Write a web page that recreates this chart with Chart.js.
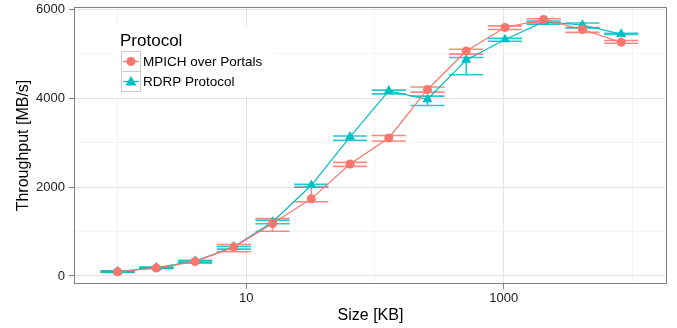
<!DOCTYPE html>
<html>
<head>
<meta charset="utf-8">
<script src="https://cdn.jsdelivr.net/npm/chart.js@4.4.1/dist/chart.umd.min.js"></script>
<style>
  html, body { margin: 0; padding: 0; background: #fff; }
</style>
</head>
<body>
<canvas id="chart" width="677" height="328"></canvas>
<script>
// message sizes (KB), log2 steps
const sizes = [1, 2, 4, 8, 16, 32, 64, 128, 256, 512, 1024, 2048, 4096, 8192];

// MPICH over Portals: mean + error bar bounds (MB/s)
const mpich = [95, 180, 325, 650, 1180, 1735, 2520, 3105, 4195, 5060, 5590, 5770, 5545, 5255];
const mpichLow = [80, 165, 295, 545, 1005, 1670, 2465, 3035, 4135, 4990, 5545, 5700, 5480, 5235];
const mpichHigh = [110, 195, 345, 710, 1290, 2000, 2555, 3160, 4250, 5100, 5625, 5785, 5590, 5295];

// RDRP Protocol
const rdrp = [100, 190, 335, 655, 1215, 2040, 3130, 4165, 3975, 4860, 5320, 5715, 5645, 5440];
const rdrpLow = [85, 175, 300, 605, 1175, 1995, 3050, 4095, 3835, 4525, 5280, 5665, 5580, 5430];
const rdrpHigh = [115, 200, 345, 665, 1250, 2060, 3150, 4180, 4045, 4915, 5345, 5735, 5690, 5460];

const xTicks = [1, 10, 100, 1000, 10000];
const xLabeled = [10, 1000];
const yTicks = [0, 1000, 2000, 3000, 4000, 5000, 6000];
const yLabeled = [0, 2000, 4000, 6000];

const RED = '#F8766D';
const TEAL = '#00BFC4';
const FONT = '"Liberation Sans", Arial, sans-serif';

const toPoints = (ys) => sizes.map((s, i) => ({ x: s, y: ys[i] }));

// 오차 막대 (ggplot geom_errorbar 느낌)
const errorBars = {
    id: 'errorBars',
    beforeDatasetsDraw(chart) {
        const { ctx, chartArea, scales: { x, y } } = chart;
        const capFactor = Math.pow(10, 0.133);
        const sets = [
            { low: mpichLow, high: mpichHigh, color: 'rgba(248,118,109,0.85)' },
            { low: rdrpLow, high: rdrpHigh, color: 'rgba(0,191,196,0.85)' }
        ];
        ctx.save();
        ctx.beginPath();
        ctx.rect(chartArea.left, chartArea.top, chartArea.right - chartArea.left, chartArea.bottom - chartArea.top);
        ctx.clip();
        sets.forEach(set => {
            ctx.strokeStyle = set.color;
            ctx.lineWidth = 1.6;
            sizes.forEach((s, i) => {
                const px = x.getPixelForValue(s);
                const x0 = x.getPixelForValue(s / capFactor);
                const x1 = x.getPixelForValue(s * capFactor);
                const yl = y.getPixelForValue(set.low[i]);
                const yh = y.getPixelForValue(set.high[i]);
                ctx.beginPath();
                ctx.moveTo(px, yl); ctx.lineTo(px, yh);
                ctx.moveTo(x0, yl); ctx.lineTo(x1, yl);
                ctx.moveTo(x0, yh); ctx.lineTo(x1, yh);
                ctx.stroke();
            });
        });
        ctx.restore();
    }
};

// 패널 테두리 + 범례 (플롯 안쪽 좌상단)
const panelAndLegend = {
    id: 'panelAndLegend',
    afterDraw(chart) {
        const { ctx, chartArea: a } = chart;
        ctx.save();
        ctx.strokeStyle = '#808080';
        ctx.lineWidth = 1;
        ctx.strokeRect(Math.round(a.left) + 0.5, Math.round(a.top) + 0.5,
            Math.round(a.right - a.left) - 1, Math.round(a.bottom - a.top) - 1);

        // legend background
        ctx.fillStyle = '#fff';
        ctx.fillRect(114, 27, 160, 70);

        ctx.fillStyle = '#000';
        ctx.textBaseline = 'middle';
        ctx.font = '17px ' + FONT;
        ctx.fillText('Protocol', 120, 41);

        const items = [
            { label: 'MPICH over Portals', color: RED, shape: 'circle' },
            { label: 'RDRP Protocol', color: TEAL, shape: 'triangle' }
        ];
        items.forEach((it, i) => {
            const bx = 121, by = 51.5 + i * 20, bs = 20;
            ctx.strokeStyle = '#cccccc';
            ctx.lineWidth = 1;
            ctx.strokeRect(bx + 0.5, by, bs - 1, bs);
            const cx = bx + bs / 2, cy = by + bs / 2;
            ctx.strokeStyle = it.color;
            ctx.lineWidth = 1.2;
            ctx.beginPath();
            ctx.moveTo(bx + 2, cy); ctx.lineTo(bx + bs - 2, cy);
            ctx.stroke();
            ctx.fillStyle = it.color;
            ctx.beginPath();
            if (it.shape === 'circle') {
                ctx.arc(cx, cy, 4.5, 0, Math.PI * 2);
            } else {
                ctx.moveTo(cx, cy - 5.5);
                ctx.lineTo(cx + 5.5, cy + 4);
                ctx.lineTo(cx - 5.5, cy + 4);
                ctx.closePath();
            }
            ctx.fill();
            ctx.fillStyle = '#000';
            ctx.font = '13.5px ' + FONT;
            ctx.fillText(it.label, 143, cy + 0.5);
        });
        ctx.restore();
    }
};

new Chart(document.getElementById('chart'), {
    type: 'line',
    data: {
        datasets: [
            {
                label: 'MPICH over Portals',
                data: toPoints(mpich),
                borderColor: RED,
                backgroundColor: RED,
                borderWidth: 1.2,
                pointStyle: 'circle',
                pointRadius: 4.5,
                pointBorderWidth: 0,
                tension: 0
            },
            {
                label: 'RDRP Protocol',
                data: toPoints(rdrp),
                borderColor: TEAL,
                backgroundColor: TEAL,
                borderWidth: 1.2,
                pointStyle: 'triangle',
                pointRadius: 5.8,
                pointBorderWidth: 0,
                tension: 0
            }
        ]
    },
    options: {
        responsive: false,
        animation: false,
        layout: { padding: { left: 0, right: 10, top: 7, bottom: 0 } },
        plugins: {
            legend: { display: false },
            tooltip: { enabled: false }
        },
        scales: {
            x: {
                type: 'logarithmic',
                min: 0.458,
                max: 18600,
                afterBuildTicks: (scale) => { scale.ticks = xTicks.map(v => ({ value: v })); },
                afterFit: (scale) => {
                    scale.height = 44;
                    scale.paddingLeft = 0;
                    scale.paddingRight = 0;
                },
                ticks: {
                    autoSkip: false,
                    maxRotation: 0,
                    padding: 2,
                    color: '#222',
                    font: { family: FONT, size: 13 },
                    callback: (v) => xLabeled.includes(v) ? String(v) : ''
                },
                grid: {
                    color: (c) => xLabeled.includes(c.tick && c.tick.value) ? '#e3e3e3' : '#f3f3f3',
                    tickColor: (c) => xLabeled.includes(c.tick && c.tick.value) ? '#808080' : 'rgba(0,0,0,0)',
                    tickLength: 5,
                    lineWidth: 1
                },
                border: { display: false },
                title: {
                    display: true,
                    text: 'Size [KB]',
                    color: '#000',
                    font: { family: FONT, size: 16 },
                    padding: { top: 0, bottom: 3 }
                }
            },
            y: {
                type: 'linear',
                min: -180,
                max: 6050,
                afterBuildTicks: (scale) => { scale.ticks = yTicks.map(v => ({ value: v })); },
                afterFit: (scale) => {
                    scale.width = 74;
                    scale.paddingTop = 0;
                    scale.paddingBottom = 0;
                },
                ticks: {
                    padding: 4,
                    color: '#222',
                    font: { family: FONT, size: 13 },
                    callback: (v) => yLabeled.includes(v) ? String(v) : ''
                },
                grid: {
                    color: (c) => yLabeled.includes(c.tick && c.tick.value) ? '#e3e3e3' : '#f3f3f3',
                    tickColor: (c) => yLabeled.includes(c.tick && c.tick.value) ? '#808080' : 'rgba(0,0,0,0)',
                    tickLength: 5,
                    lineWidth: 1
                },
                border: { display: false },
                title: {
                    display: true,
                    text: 'Throughput [MB/s]',
                    color: '#000',
                    font: { family: FONT, size: 16 },
                    padding: { top: 14, bottom: 0 }
                }
            }
        }
    },
    plugins: [errorBars, panelAndLegend]
});
</script>
</body>
</html>
